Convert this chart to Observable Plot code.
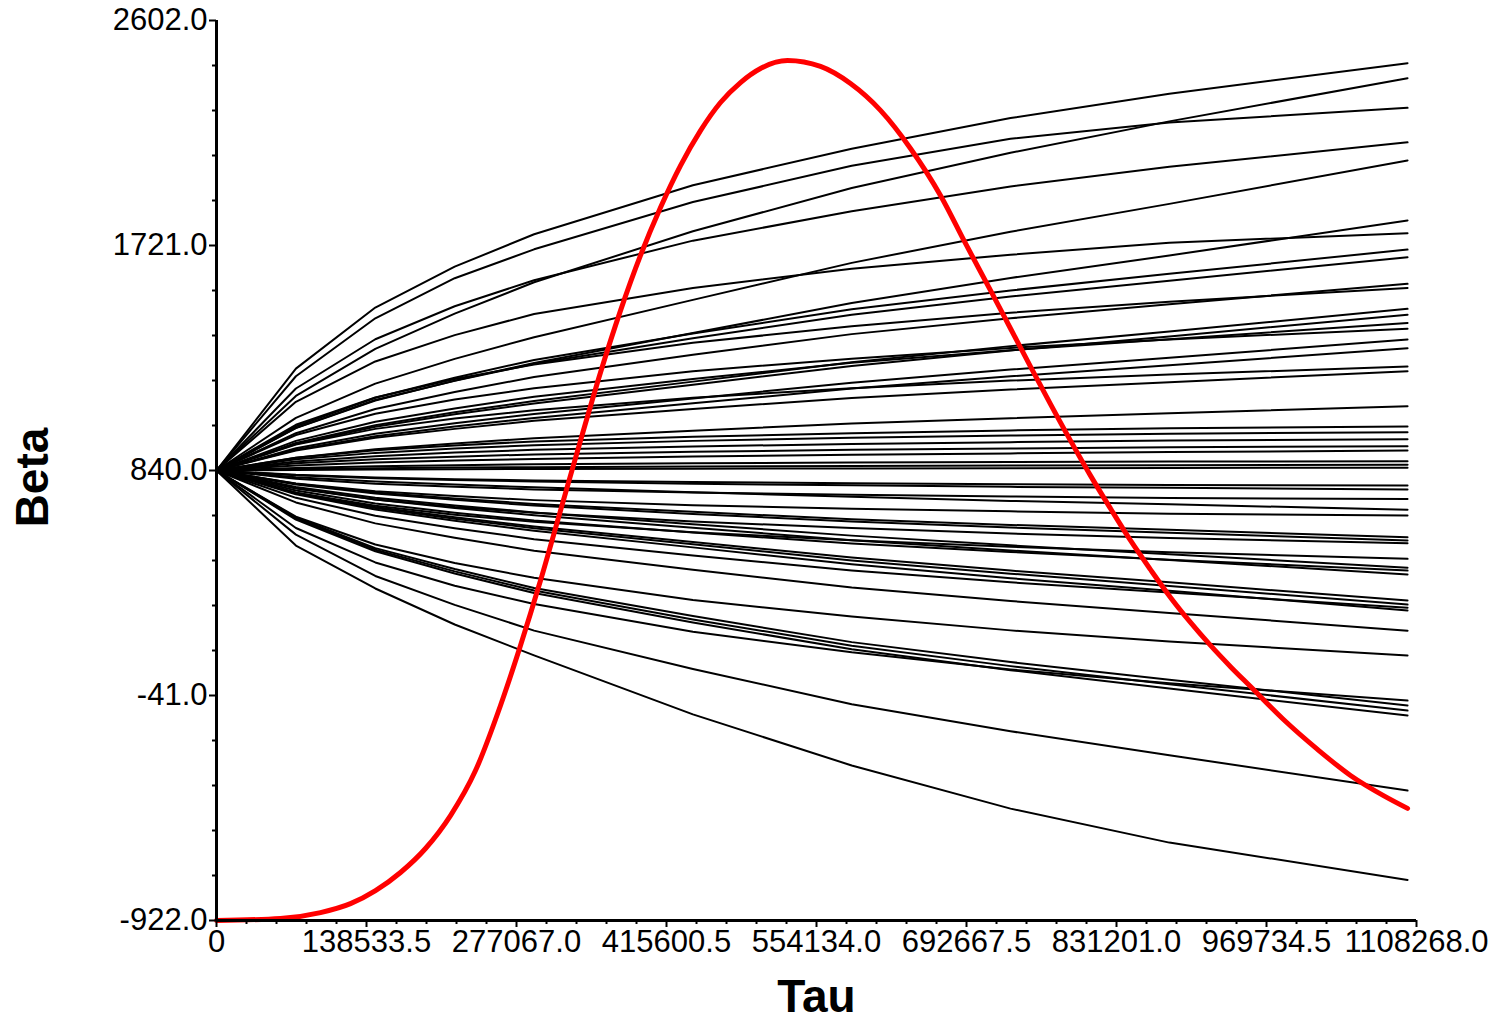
<!DOCTYPE html>
<html><head><meta charset="utf-8">
<script src="https://cdn.jsdelivr.net/npm/d3@7"></script>
<script src="https://cdn.jsdelivr.net/npm/@observablehq/plot@0.6"></script>
<style>html,body{margin:0;padding:0;background:#fff;}</style>
</head><body><div id="chart"></div>
<script>
// Tau positions of the path vertices
const tauVertices = [0, 73333, 146667, 220000, 293333, 440000, 586667, 733333, 880000, 1100000];
// Beta values of each black path at those vertices
const betaPaths = [
  [840, 1239, 1478, 1638, 1765, 1957, 2100, 2220, 2315, 2435],
  [840, 1132, 1316, 1454, 1577, 1777, 1946, 2084, 2207, 2376],
  [840, 1209, 1436, 1593, 1706, 1891, 2033, 2139, 2203, 2260],
  [840, 1161, 1354, 1483, 1585, 1740, 1855, 1952, 2029, 2125],
  [840, 1046, 1180, 1277, 1362, 1508, 1653, 1775, 1884, 2054],
  [840, 1006, 1114, 1192, 1261, 1378, 1496, 1594, 1682, 1819],
  [840, 1109, 1267, 1370, 1453, 1555, 1630, 1685, 1732, 1769],
  [840, 1013, 1125, 1203, 1273, 1376, 1471, 1545, 1610, 1705],
  [840, 1007, 1116, 1191, 1258, 1358, 1450, 1521, 1583, 1675],
  [840, 986, 1081, 1147, 1206, 1293, 1374, 1436, 1491, 1571],
  [840, 1019, 1126, 1198, 1255, 1340, 1405, 1458, 1501, 1555],
  [840, 948, 1017, 1068, 1112, 1188, 1264, 1327, 1384, 1473],
  [840, 944, 1011, 1060, 1102, 1176, 1249, 1310, 1365, 1450],
  [840, 956, 1031, 1083, 1129, 1198, 1262, 1311, 1354, 1418],
  [840, 979, 1062, 1118, 1162, 1229, 1278, 1320, 1353, 1395],
  [840, 927, 984, 1025, 1061, 1122, 1184, 1235, 1281, 1353],
  [840, 921, 974, 1012, 1046, 1103, 1161, 1209, 1252, 1319],
  [840, 942, 1003, 1044, 1076, 1125, 1162, 1192, 1216, 1247],
  [840, 918, 968, 1003, 1035, 1081, 1124, 1157, 1186, 1229],
  [840, 890, 923, 946, 966, 996, 1024, 1045, 1064, 1092],
  [840, 890, 919, 938, 954, 972, 986, 997, 1005, 1012],
  [840, 884, 909, 926, 939, 956, 968, 977, 984, 990],
  [840, 875, 896, 910, 921, 934, 944, 951, 957, 962],
  [840, 868, 884, 894, 903, 913, 921, 926, 931, 935],
  [840, 860, 871, 879, 885, 895, 902, 907, 912, 918],
  [840, 850, 857, 861, 864, 868, 871, 873, 875, 876],
  [840, 846, 849, 852, 853, 856, 858, 860, 861, 863],
  [840, 842, 844, 845, 846, 847, 848, 849, 850, 851],
  [840, 823, 813, 806, 801, 795, 790, 786, 783, 781],
  [840, 821, 810, 803, 797, 788, 782, 776, 772, 766],
  [840, 808, 788, 776, 766, 754, 745, 738, 732, 728],
  [840, 814, 797, 785, 774, 755, 737, 721, 708, 686],
  [840, 789, 759, 740, 724, 704, 690, 680, 671, 664],
  [840, 788, 754, 730, 709, 678, 649, 627, 608, 579],
  [840, 785, 750, 725, 703, 670, 640, 617, 596, 566],
  [840, 769, 726, 697, 675, 640, 615, 593, 576, 555],
  [840, 753, 702, 667, 639, 598, 567, 541, 520, 494],
  [840, 775, 733, 703, 676, 630, 585, 547, 512, 459],
  [840, 762, 711, 675, 644, 597, 554, 521, 491, 448],
  [840, 771, 726, 693, 665, 616, 567, 527, 490, 433],
  [840, 753, 697, 657, 621, 560, 499, 448, 402, 331],
  [840, 751, 693, 651, 614, 551, 488, 436, 388, 315],
  [840, 733, 663, 614, 571, 507, 448, 402, 362, 303],
  [840, 747, 687, 643, 604, 539, 473, 418, 369, 292],
  [840, 715, 633, 577, 526, 451, 382, 329, 282, 213],
  [840, 659, 550, 478, 420, 333, 268, 214, 170, 116],
  [840, 615, 480, 389, 317, 209, 128, 61, 7, -61],
  [840, 656, 536, 454, 380, 270, 168, 90, 21, -80],
  [840, 652, 530, 445, 370, 257, 154, 74, 3, -100],
  [840, 648, 524, 437, 360, 245, 140, 58, -14, -119],
  [840, 589, 427, 314, 213, 63, -75, -181, -275, -413],
  [840, 546, 378, 237, 116, -115, -315, -484, -617, -763]
];
// Red curve samples
const redTau = [0, 59108, 96050, 123757, 146846, 169935, 193024, 216113, 239202, 262291, 280762, 299233, 317705, 336176, 354647, 373118, 391589, 410061, 428532, 447003, 465474, 483945, 502417, 527353, 557830, 585537, 613244, 640951, 668657, 691746, 714835, 733306, 751778, 770249, 788720, 807191, 825663, 844134, 862605, 881076, 899547, 918019, 936490, 954961, 985439, 1016840, 1047317, 1077795, 1100000];
const redBeta = [-922, -914, -891, -856, -805, -734, -640, -511, -335, -80, 155, 409, 683, 957, 1224, 1466, 1682, 1870, 2034, 2171, 2281, 2359, 2414, 2445, 2422, 2355, 2250, 2101, 1917, 1729, 1545, 1396, 1247, 1100, 957, 820, 691, 566, 452, 343, 245, 155, 72, -6, -135, -252, -354, -433, -483];
// Axis ticks
const xTicks = [0, 138533.5, 277067.0, 415600.5, 554134.0, 692667.5, 831201.0, 969734.5, 1108268.0];
const yTicks = [-922.0, -41.0, 840.0, 1721.0, 2602.0];

function subdivide(ticks, n) {
  const out = [];
  for (let i = 0; i < ticks.length - 1; i++) {
    for (let j = 1; j < n; j++) out.push(ticks[i] + (ticks[i + 1] - ticks[i]) * j / n);
  }
  return out;
}
const xMinor = subdivide(xTicks, 5);
const yMinor = subdivide(yTicks, 5);

const lineRows = betaPaths.flatMap((p, i) => p.map((b, j) => ({id: i, tau: tauVertices[j], beta: b})));
const redRows = redTau.map((t, i) => ({tau: t, beta: redBeta[i]}));

const chart = Plot.plot({
  width: 1506,
  height: 1022,
  marginLeft: 216,
  marginRight: 90,
  marginTop: 20,
  marginBottom: 102,
  style: {fontFamily: "'Liberation Sans', Arial, sans-serif", background: "white", color: "black"},
  x: {domain: [0, 1108268]},
  y: {domain: [-922, 2602]},
  marks: [
    Plot.line(lineRows, {x: "tau", y: "beta", z: "id", stroke: "black", strokeWidth: 2}),
    Plot.line(redRows, {x: "tau", y: "beta", stroke: "#ff0000", strokeWidth: 5, curve: "monotone-x"}),
    Plot.ruleX([0], {stroke: "black", strokeWidth: 3}),
    Plot.ruleY([-922], {stroke: "black", strokeWidth: 3}),
    Plot.axisX({ticks: xMinor, tickSize: 4, tickFormat: () => "", label: null, strokeWidth: 2}),
    Plot.axisX({ticks: xTicks, tickSize: 7, tickPadding: 2, fontSize: 31, strokeWidth: 2,
      tickFormat: d => d === 0 ? "0" : d.toFixed(1), label: null}),
    Plot.axisY({ticks: yMinor, tickSize: 4, tickFormat: () => "", label: null, strokeWidth: 2}),
    Plot.axisY({ticks: yTicks, tickSize: 7, tickPadding: 2, fontSize: 31, strokeWidth: 2,
      tickFormat: d => d.toFixed(1), label: null}),
    Plot.text(["Tau"], {text: d => d, frameAnchor: "bottom", dy: 77, fontSize: 46, fontWeight: "bold",
      textAnchor: "middle", lineAnchor: "middle"}),
    Plot.text(["Beta"], {text: d => d, frameAnchor: "left", dx: -183, dy: 7, rotate: -90, fontSize: 46,
      fontWeight: "bold", textAnchor: "middle", lineAnchor: "middle"})
  ]
});
document.getElementById("chart").appendChild(chart);
</script>
</body></html>
